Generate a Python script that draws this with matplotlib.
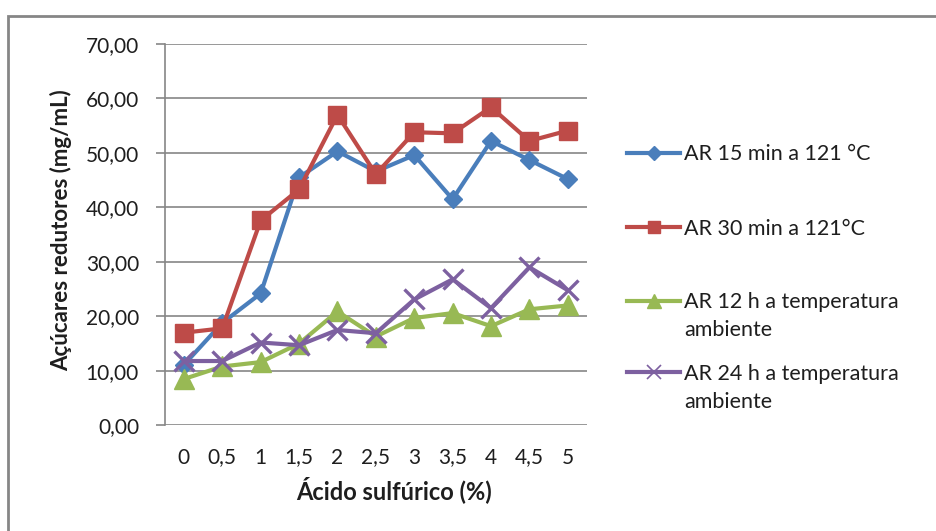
import matplotlib.pyplot as plt
from matplotlib.lines import Line2D
from matplotlib.patches import Rectangle

plt.rcParams['font.family'] = ['Lato', 'DejaVu Sans']

# Sugar content per sulfuric acid concentration
acid = ['0', '0,5', '1', '1,5', '2', '2,5', '3', '3,5', '4', '4,5', '5']
ar_15min = [11.1, 18.8, 24.2, 45.5, 50.3, 46.6, 49.6, 41.5, 52.2, 48.7, 45.2]
ar_30min = [17.0, 17.8, 37.6, 43.3, 57.0, 46.1, 53.8, 53.6, 58.4, 52.2, 54.1]
ar_12h = [8.5, 10.8, 11.6, 15.0, 20.9, 16.3, 19.7, 20.6, 18.2, 21.3, 22.0]
ar_24h = [11.8, 11.8, 15.2, 14.7, 17.5, 16.9, 23.1, 26.8, 21.5, 29.0, 24.8]

labels = ['AR 15 min a 121 °C', 'AR 30 min a 121°C',
          'AR 12 h a temperatura\nambiente', 'AR 24 h a temperatura\nambiente']
colors = ['#4A7EBB', '#BE4B48', '#98B954', '#7D60A0']
markers = ['D', 's', '^', 'x']
msizes = [9.5, 13, 15, 15]

W, H = 936, 531
fig = plt.figure(figsize=(W / 100, H / 100), dpi=100)
ax = fig.add_axes([164.7 / W, 1 - 425.3 / H, 422.3 / W, 381.3 / H])

# chart border
fig.add_artist(Rectangle((8 / W, -0.05), 1.0, 1 - 16 / H + 0.05,
                         transform=fig.transFigure, fill=False,
                         edgecolor='#868686', lw=2))

x = list(range(len(acid)))
series = [ar_15min, ar_30min, ar_12h, ar_24h]
for ys, c, m, ms in zip(series, colors, markers, msizes):
    kw = dict(markeredgewidth=2.4) if m == 'x' else dict(markeredgecolor=c)
    ax.plot(x, ys, color=c, lw=3, marker=m, markersize=ms, **kw)

ax.set_xlim(-0.5, len(acid) - 0.5)
ax.set_ylim(0, 70)
ax.set_yticks(range(0, 71, 10))
ax.set_yticklabels([f'{v},00' for v in range(0, 71, 10)])
ax.set_xticks(x)
ax.set_xticklabels(acid)
ax.grid(axis='y', color='#868686', lw=1.2)
ax.set_axisbelow(True)
for s in ['top', 'right', 'bottom']:
    ax.spines[s].set_visible(False)
ax.spines['left'].set_color('#868686')
ax.spines['left'].set_linewidth(1.2)
ax.tick_params(axis='y', length=6.5, color='#868686', width=1.2, pad=12,
               labelsize=15, labelcolor='#1e1e1e')
ax.tick_params(axis='x', length=0, pad=16, labelsize=15, labelcolor='#1e1e1e')

ax.set_xlabel('Ácido sulfúrico (%)', fontsize=17, fontweight='bold', color='#1e1e1e')
ax.set_ylabel('Açúcares redutores (mg/mL)', fontsize=16, fontweight='bold', color='#1e1e1e')
ax.xaxis.set_label_coords(0.543, -0.133)
ax.yaxis.set_label_coords(-0.22, 0.512)

# legend drawn by hand so the handle sits on the first text line
leg_y = [153, 227, 301, 372]
for lab, c, m, ms, yy in zip(labels, colors, markers, msizes, leg_y):
    yf = 1 - yy / H
    kw = dict(markeredgewidth=1.2) if m == 'x' else dict(markeredgecolor=c)
    fig.add_artist(Line2D([627 / W, 680 / W], [yf, yf], transform=fig.transFigure,
                          color=c, lw=3))
    fig.add_artist(Line2D([653.5 / W], [yf], transform=fig.transFigure,
                          color=c, marker=m, markersize=ms * 0.7, lw=0, **kw))
    for i, line in enumerate(lab.split('\n')):
        fig.text(684 / W, 1 - (yy + 7.5 + 28 * i) / H, line, fontsize=15.5,
                 color='#1e1e1e', va='baseline')

fig.savefig('out.png', dpi=100)
